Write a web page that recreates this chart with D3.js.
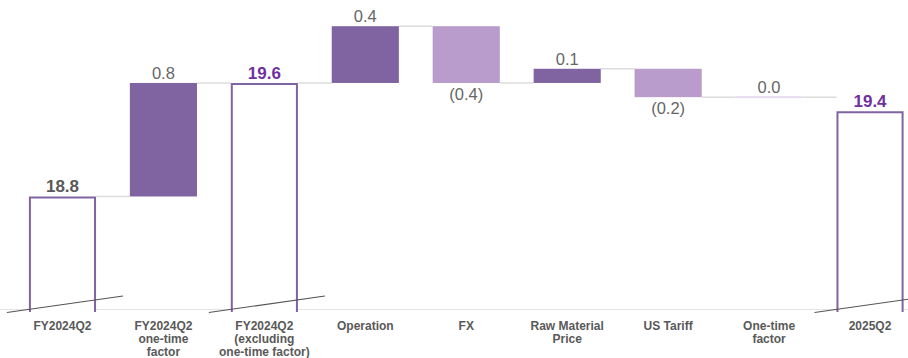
<!DOCTYPE html>
<html>
<head>
<meta charset="utf-8">
<script src="https://cdn.jsdelivr.net/npm/d3@7"></script>
<style>
  html, body { margin: 0; padding: 0; background: #fff; }
  svg { display: block; font-family: "Liberation Sans", Arial, sans-serif; }
</style>
</head>
<body>
<svg id="chart" width="908" height="358"></svg>
<script>
// Bridge of quarterly figures: totals are absolute, the rest are changes
const categories = [
  ["FY2024Q2"],
  ["FY2024Q2", "one-time", "factor"],
  ["FY2024Q2", "(excluding", "one-time factor)"],
  ["Operation"],
  ["FX"],
  ["Raw Material", "Price"],
  ["US Tariff"],
  ["One-time", "factor"],
  ["2025Q2"]
];
const values = [18.8, 0.8, 19.6, 0.4, -0.4, 0.1, -0.2, 0.0, 19.4];
const kinds = ["total", "delta", "total", "delta", "delta", "delta", "delta", "delta", "total"];
const valueLabels = ["18.8", "0.8", "19.6", "0.4", "(0.4)", "0.1", "(0.2)", "0.0", "19.4"];
const yDomain = [18.0, 20.2];

const COL_UP = "#8064a2";
const COL_DOWN = "#b99bcc";
const COL_ZERO = "#e6dcef";
const COL_OUTLINE = "#8064a2";
const COL_CONNECT = "#dcdcdc";

const svg = d3.select("#chart");
const baseY = 310;

const x = d3.scaleBand()
  .domain(d3.range(categories.length))
  .range([12, 920.5])
  .paddingInner(0.335)
  .paddingOuter(0.1675);

const y = d3.scaleLinear().domain(yDomain).range([baseY, baseY - 2.2 * 141.9]);

// running levels for the bridge
let level = yDomain[0];
const bars = values.map((v, i) => {
  let start, end;
  if (kinds[i] === "total") { start = yDomain[0]; end = v; }
  else { start = level; end = level + v; }
  level = end;
  return { i, v, kind: kinds[i], start, end, label: valueLabels[i] };
});

// baseline
svg.append("line")
  .attr("x1", 0).attr("x2", 908)
  .attr("y1", baseY - 0.5).attr("y2", baseY - 0.5)
  .attr("stroke", "#e3e3e3").attr("stroke-width", 1.2);

// connectors between consecutive bars
svg.append("g").selectAll("line")
  .data(bars.slice(0, -1))
  .join("line")
  .attr("x1", d => x(d.i) + x.bandwidth())
  .attr("x2", d => x(d.i + 1))
  .attr("y1", d => y(d.end))
  .attr("y2", d => y(d.end))
  .attr("stroke", COL_CONNECT)
  .attr("stroke-width", 1.5);

// change bars
const deltas = bars.filter(d => d.kind === "delta");
svg.append("g").selectAll("rect")
  .data(deltas)
  .join("rect")
  .attr("x", d => x(d.i))
  .attr("width", x.bandwidth())
  .attr("y", d => d.v === 0 ? y(d.end) - 1 : y(Math.max(d.start, d.end)))
  .attr("height", d => d.v === 0 ? 2 : Math.abs(y(d.start) - y(d.end)))
  .attr("fill", d => d.v > 0 ? COL_UP : d.v < 0 ? COL_DOWN : COL_ZERO);

// total bars: open-bottom outlines standing on the broken axis
const totals = bars.filter(d => d.kind === "total");
svg.append("g").selectAll("path")
  .data(totals)
  .join("path")
  .attr("d", d => {
    const x0 = x(d.i) + 1, x1 = x(d.i) + x.bandwidth() - 1, yt = y(d.end) + 1, yb = baseY + 2;
    return `M${x0},${yb}V${yt}H${x1}V${yb}`;
  })
  .attr("fill", "#fff")
  .attr("stroke", COL_OUTLINE)
  .attr("stroke-width", 2);

// axis-break slashes across the totals
svg.append("g").selectAll("line")
  .data(totals)
  .join("line")
  .attr("x1", d => x(d.i) - 22)
  .attr("x2", d => x(d.i) + x.bandwidth() + 27)
  .attr("y1", baseY + 2.5)
  .attr("y2", baseY - 14)
  .attr("stroke", "#555")
  .attr("stroke-width", 1.1);

// value labels
svg.append("g").selectAll("text")
  .data(bars)
  .join("text")
  .attr("x", d => x(d.i) + x.bandwidth() / 2)
  .attr("y", d => {
    if (d.kind === "total") return y(d.end) - 4;
    if (d.v < 0) return y(d.end) + 17;
    return y(d.end) - 4;
  })
  .attr("text-anchor", "middle")
  .attr("font-size", d => d.kind === "total" ? 17 : 16.5)
  .attr("font-weight", d => d.kind === "total" ? "bold" : "normal")
  .attr("fill", d => d.kind === "total" ? (d.i === 0 ? "#595959" : "#7030a0") : "#666")
  .text(d => d.label);

// category labels
const cat = svg.append("g").selectAll("text")
  .data(categories)
  .join("text")
  .attr("x", (d, i) => x(i) + x.bandwidth() / 2)
  .attr("y", 330)
  .attr("text-anchor", "middle")
  .attr("font-size", 12)
  .attr("font-weight", "bold")
  .attr("fill", "#595959");
cat.selectAll("tspan")
  .data(d => d)
  .join("tspan")
  .attr("x", function () { return this.parentNode.getAttribute("x"); })
  .attr("dy", (d, j) => j === 0 ? 0 : 12.8)
  .text(d => d);
</script>
</body>
</html>
